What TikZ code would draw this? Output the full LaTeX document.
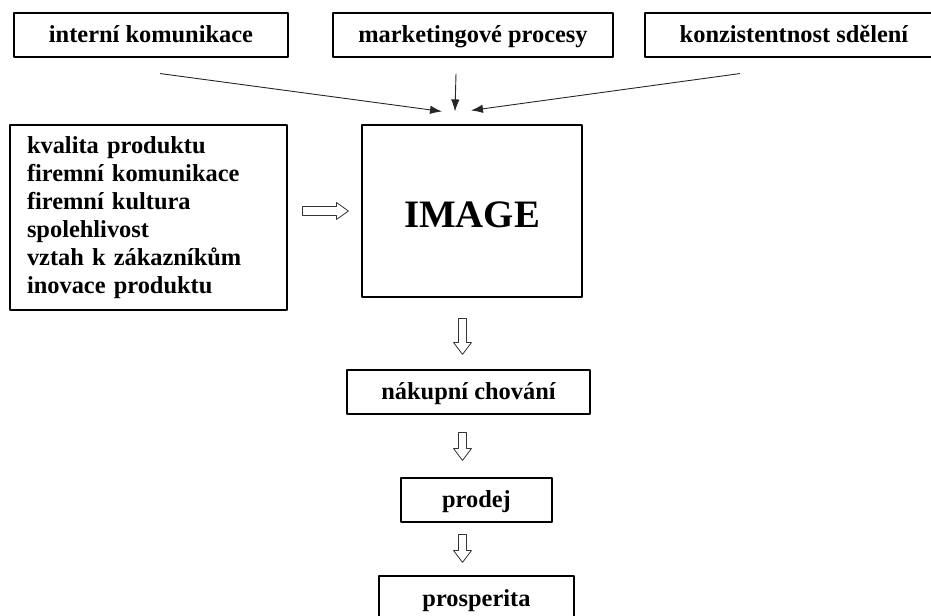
\documentclass[tikz,border=0pt]{standalone}
\usepackage{fontspec}
\setmainfont{Liberation Serif}
\usetikzlibrary{arrows.meta,positioning,calc}

\tikzset{
  box/.style={draw,line width=1.1bp,inner sep=0pt,
    font=\fontsize{24.5}{28}\selectfont\bfseries},
  tag/.style={box,minimum height=44bp,text height=18bp,text depth=2bp},
  thin/.style={->,line width=0.9bp,black!85},
  hollowdown/.style={draw=black!80,fill=white,line width=0.8bp,to path={
    ($(\tikztostart)+(-4bp,0)$) -- ($(\tikztotarget)+(-4bp,12bp)$)
    -- ($(\tikztotarget)+(-9bp,12bp)$) -- (\tikztotarget)
    -- ($(\tikztotarget)+(9bp,12bp)$) -- ($(\tikztotarget)+(4bp,12bp)$)
    -- ($(\tikztostart)+(4bp,0)$) -- cycle}},
  hollowright/.style={draw=black!80,fill=white,line width=0.8bp,to path={
    ($(\tikztostart)+(0,4.5bp)$) -- ($(\tikztotarget)+(-12bp,4.5bp)$)
    -- ($(\tikztotarget)+(-12bp,8.5bp)$) -- (\tikztotarget)
    -- ($(\tikztotarget)+(-12bp,-8.5bp)$) -- ($(\tikztotarget)+(-12bp,-4.5bp)$)
    -- ($(\tikztostart)+(0,-4.5bp)$) -- cycle}},
}

\begin{document}
\begin{tikzpicture}[>={Latex[length=12bp,width=8.5bp]},line join=bevel]
\useasboundingbox (0,0) rectangle (931bp,616bp);
%%
\node (top1) at (151bp,581bp) [tag,minimum width=274bp] {interní komunikace};
  \node (top2) at (473bp,581bp) [tag,minimum width=280bp] {marketingové procesy};
  \node (top3) at (794bp,581bp) [tag,minimum width=298bp] {konzistentnost sdělení};
  \node (factors) at (148.5bp,398.5bp) [box,minimum width=277bp,minimum height=185bp,
    text width=243bp,inner xsep=17bp,align=left] {kvalita produktu\\ firemní komunikace\\
    firemní kultura\\ spolehlivost\\ vztah k zákazníkům\\ inovace produktu};
  \node (image) at (472bp,405bp) [box,minimum width=220bp,minimum height=172bp,
    text height=33bp,text depth=0bp,font=\fontsize{39}{47}\selectfont\bfseries] {IMAGE};
  \node (buy) at (468.5bp,224bp) [tag,minimum width=243bp] {nákupní chování};
  \node (sale) at (476.5bp,116bp) [tag,minimum width=151bp] {prodej};
  \node (prosp) at (476.5bp,18bp) [tag,minimum width=195bp] {prosperita};
  \coordinate (axis) at (462.5bp,0bp);
%
  \draw [thin] ([xshift=9bp,yshift=-16bp]top1.south) -- ([xshift=-30bp,yshift=13bp]image.north);
  \draw [thin] ([xshift=-17bp,yshift=-16bp]top2.south) -- ([xshift=-17bp,yshift=13bp]image.north);
  \draw [thin] ([xshift=-54bp,yshift=-16bp]top3.south) -- ([xshift=-1bp,yshift=14bp]image.north);
  \draw [hollowright] ($(factors.east |- image.west)+(15bp,0)$) to ($(image.west)+(-13bp,0)$);
  \draw [hollowdown] ($(axis |- image.south)+(0,-21bp)$) to ($(axis |- buy.north)+(0,15bp)$);
  \draw [hollowdown] ($(axis |- buy.south)+(0,-18bp)$) to ($(axis |- sale.north)+(0,17bp)$);
  \draw [hollowdown] ($(axis |- sale.south)+(0,-12bp)$) to ($(axis |- prosp.north)+(0,13bp)$);
%
\end{tikzpicture}
\end{document}
